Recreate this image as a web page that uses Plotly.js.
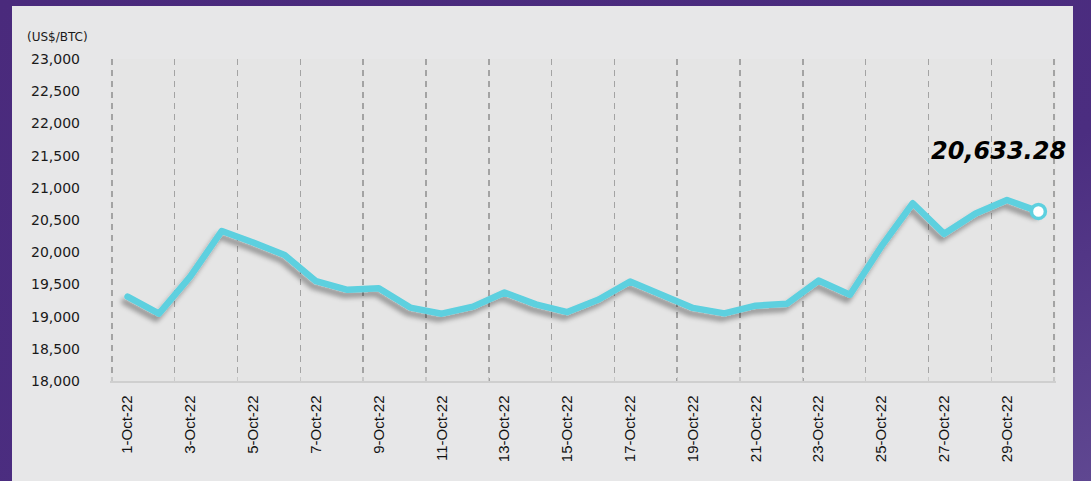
<!DOCTYPE html>
<html>
<head>
<meta charset="utf-8">
<script src="https://cdn.plot.ly/plotly-3.0.1.min.js"></script>
<style>
  html, body { margin:0; padding:0; width:1091px; height:481px; overflow:hidden; }
  body { background: linear-gradient(160deg, #4a2a7c 0%, #4b2d80 60%, #5f4791 100%); position:relative; }
  #panel { position:absolute; left:12px; top:6px; width:1061px; height:480px; background:#e7e7e8; }
  #chart { position:absolute; left:0; top:0; width:1091px; height:481px; }
</style>
</head>
<body>
<div id="panel"></div>
<div id="chart"></div>
<script>
// Data
const dates = ["1-Oct-22","2-Oct-22","3-Oct-22","4-Oct-22","5-Oct-22","6-Oct-22","7-Oct-22","8-Oct-22","9-Oct-22","10-Oct-22",
  "11-Oct-22","12-Oct-22","13-Oct-22","14-Oct-22","15-Oct-22","16-Oct-22","17-Oct-22","18-Oct-22","19-Oct-22","20-Oct-22",
  "21-Oct-22","22-Oct-22","23-Oct-22","24-Oct-22","25-Oct-22","26-Oct-22","27-Oct-22","28-Oct-22","29-Oct-22","30-Oct-22"];
const prices = [19310, 19045, 19625, 20330, 20150, 19955, 19550, 19415, 19440, 19140,
  19045, 19155, 19375, 19190, 19070, 19265, 19545, 19330, 19135, 19050,
  19170, 19200, 19560, 19340, 20090, 20760, 20285, 20600, 20810, 20633.28];
const lastLabel = "20,633.28";
const yTicks = [18000,18500,19000,19500,20000,20500,21000,21500,22000,22500,23000];

const idx = dates.map((d,i)=>i);
const labelIdx = idx.filter(i => i % 2 === 0);
const boundaries = [];
for (let i = 0; i <= dates.length; i += 2) boundaries.push(i - 0.5);

const traces = [
  {
    x: idx, y: prices, type:'scatter', mode:'lines',
    line:{color:'#5dd0df', width:6.5},
    hoverinfo:'skip', showlegend:false
  },
  {
    x: [idx[idx.length-1]], y: [prices[prices.length-1]], type:'scatter', mode:'markers',
    marker:{size:14, color:'#ffffff', line:{color:'#5dd0df', width:3.5}},
    hoverinfo:'skip', showlegend:false
  }
];

const layout = {
  width:1091, height:481,
  margin:{l:110, r:35, t:59, b:100},
  paper_bgcolor:'rgba(0,0,0,0)',
  plot_bgcolor:'#e5e5e5',
  showlegend:false,
  xaxis:{
    type:'linear',
    range:[-0.56, dates.length-0.44],
    tickmode:'array',
    tickvals: labelIdx,
    ticktext: labelIdx.map(i=>dates[i]),
    tickangle:-90,
    ticks:'',
    ticklabelstandoff: 7,
    tickfont:{family:'Liberation Sans, Arial, sans-serif', size:15, color:'#111'},
    showgrid:false,
    zeroline:false,
    showline:true, linecolor:'#cfcfcf', linewidth:1.5,
    minor:{
      tickmode:'array', tickvals: boundaries,
      showgrid:true, gridcolor:'#a3a3a3', gridwidth:1.5, griddash:'6px,5px',
      ticks:'inside', ticklen:4, tickcolor:'#c8c8c8', tickwidth:1.3
    }
  },
  yaxis:{
    range:[18000, 23000],
    tickmode:'array',
    tickvals: yTicks,
    ticktext: yTicks.map(v=>v.toLocaleString('en-US')),
    ticks:'',
    ticklabelstandoff: 29,
    tickfont:{family:'DejaVu Sans, sans-serif', size:14, color:'#1a1a1a'},
    showgrid:false,
    zeroline:false,
    showline:false
  },
  annotations:[
    {
      text:'(US$/BTC)', xref:'paper', yref:'paper',
      x:-0.09, y:1.0, xanchor:'left', yanchor:'bottom', yshift:13,
      showarrow:false,
      font:{family:'DejaVu Sans, sans-serif', size:12, color:'#1a1a1a'}
    },
    {
      text:'<b><i>' + lastLabel + '</i></b>', xref:'x', yref:'y',
      x: idx[idx.length-1], y: prices[prices.length-1],
      xanchor:'center', yanchor:'bottom', xshift:-40, yshift:44,
      showarrow:false,
      font:{family:'DejaVu Sans, sans-serif', size:24, color:'#000'}
    }
  ]
};

Plotly.newPlot('chart', traces, layout, {staticPlot:true, displayModeBar:false}).then(gd => {
  const svg = gd.querySelector('svg.main-svg');
  const ns = 'http://www.w3.org/2000/svg';
  let defs = svg.querySelector('defs');
  if (!defs) { defs = document.createElementNS(ns,'defs'); svg.insertBefore(defs, svg.firstChild); }
  const f = document.createElementNS(ns,'filter');
  f.setAttribute('id','lineShadow');
  f.setAttribute('x','-10%'); f.setAttribute('y','-30%');
  f.setAttribute('width','120%'); f.setAttribute('height','160%');
  f.setAttribute('filterUnits','objectBoundingBox');
  f.innerHTML = '<feGaussianBlur in="SourceAlpha" stdDeviation="2.5"/>' +
    '<feOffset dx="-3" dy="5" result="ob"/>' +
    '<feComponentTransfer><feFuncA type="linear" slope="0.35"/></feComponentTransfer>' +
    '<feMerge><feMergeNode/><feMergeNode in="SourceGraphic"/></feMerge>';
  defs.appendChild(f);
  const paths = gd.querySelectorAll('.scatterlayer .trace .js-line');
  paths.forEach(p => {
    p.setAttribute('filter','url(#lineShadow)');
    p.style.strokeLinejoin = 'round';
    p.style.strokeLinecap = 'round';
  });
});
</script>
</body>
</html>
